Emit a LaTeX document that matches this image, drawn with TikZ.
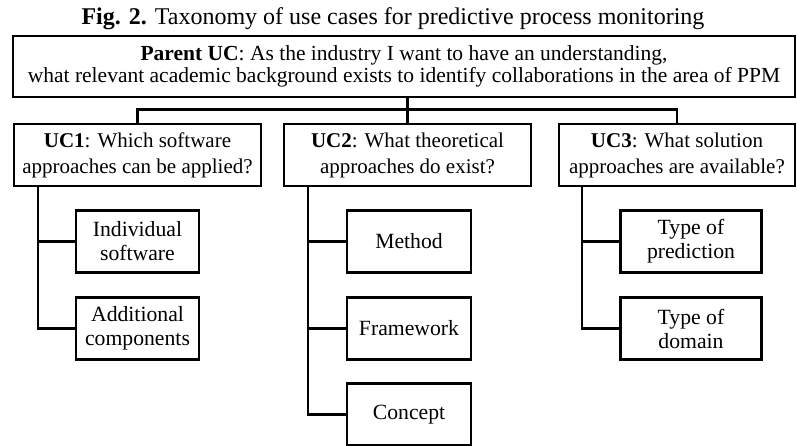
\documentclass[tikz,border=0pt]{standalone}
\usepackage{fontspec}
\setmainfont{Liberation Serif}
\begin{document}
\begin{tikzpicture}[x=1pt,y=-1pt,
  box/.style={draw, line width=2.5pt, rectangle, inner sep=0pt, align=center,
              font=\fontsize{21}{26}\selectfont},
  topbox/.style={box, minimum width=782pt, minimum height=61pt,
              font=\fontsize{21.5}{22.5}\selectfont},
  ucbox/.style={box, minimum height=62pt},
  leaf/.style={box, minimum height=62pt, font=\fontsize{21.7}{24}\selectfont},
  link/.style={line width=2.5pt}]
\useasboundingbox (0,0) rectangle (797,446);

% caption
\node[anchor=base, inner sep=0pt, font=\fontsize{24}{28}\selectfont] (cap) at (393,25)
  {\textbf{Fig. 2.} Taxonomy of use cases for predictive process monitoring};

% parent use case
\node[topbox] (parent) at (404,66.5)
  {\textbf{Parent UC}: As the industry I want to have an understanding,\\
   what relevant academic background exists to identify collaborations in the area of PPM};

% second level
\node[ucbox, minimum width=247pt] (uc1) at (137.5,155)
  {\textbf{UC1}: Which software\\approaches can be applied?};
\node[ucbox, minimum width=247pt] (uc2) at (407.5,155)
  {\textbf{UC2}: What theoretical\\approaches do exist?};
\node[ucbox, minimum width=236pt] (uc3) at (677,155)
  {\textbf{UC3}: What solution\\approaches are available?};

% leaves
\node[leaf, minimum width=123pt] (a1) at (137.5,241.5) {Individual\\software};
\node[leaf, minimum width=123pt] (a2) at (137.5,328.5) {Additional\\components};
\node[leaf, minimum width=124pt] (b1) at (409,241.5) {Method};
\node[leaf, minimum width=124pt] (b2) at (409,328.5) {Framework};
\node[leaf, minimum width=124pt] (b3) at (409,414.5) {Concept};
\node[leaf, minimum width=141pt] (c1) at (691,241.5) {Type of\\prediction};
\node[leaf, minimum width=141pt] (c2) at (691,328.5) {Type of\\domain};

% connectors from the parent to the use cases
\draw[link] (parent.south -| uc2.north) -- (uc2.north);
\draw[link] (uc1.north) -- ++(0,-13) -| (uc3.north);

% connectors from each use case to its leaves
\draw[link] ([xshift=25pt]uc1.south west) |- (a2.west);
\draw[link] ([xshift=25pt]uc1.south west) |- (a1.west);
\draw[link] ([xshift=25pt]uc2.south west) |- (b3.west);
\draw[link] ([xshift=25pt]uc2.south west) |- (b2.west);
\draw[link] ([xshift=25pt]uc2.south west) |- (b1.west);
\draw[link] ([xshift=24pt]uc3.south west) |- (c2.west);
\draw[link] ([xshift=24pt]uc3.south west) |- (c1.west);
\end{tikzpicture}
\end{document}
